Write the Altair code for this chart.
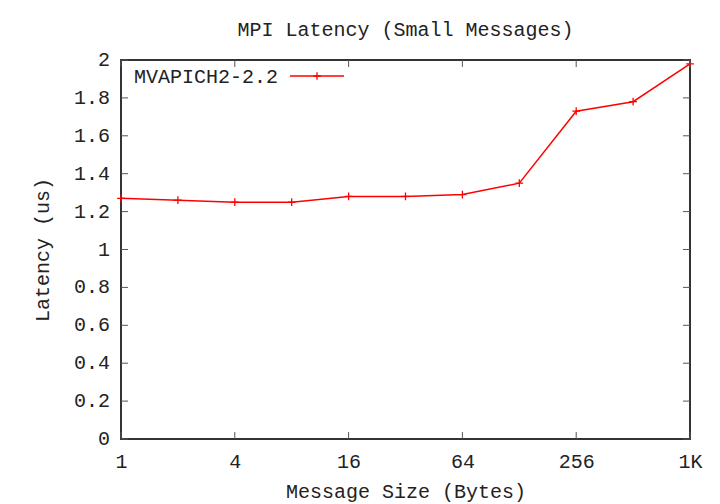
import altair as alt
import pandas as pd

sizes = [1, 2, 4, 8, 16, 32, 64, 128, 256, 512, 1024]
latency = [1.27, 1.26, 1.25, 1.25, 1.28, 1.28, 1.29, 1.35, 1.73, 1.78, 1.98]
series = ["MVAPICH2-2.2"]
title_text = ["MPI Latency (Small Messages)"]
x_ticks = [1, 4, 16, 64, 256, 1024]
x_tick_labels = ["1", "4", "16", "64", "256", "1K"]
y_ticks = [0, 0.2, 0.4, 0.6, 0.8, 1, 1.2, 1.4, 1.6, 1.8, 2]
y_tick_labels = ["0", "0.2", "0.4", "0.6", "0.8", "1", "1.2", "1.4", "1.6", "1.8", "2"]

df = pd.DataFrame({"size": sizes, "latency": latency, "series": series[0]})
xt = pd.DataFrame({"v": x_ticks})
yt = pd.DataFrame({"v": y_ticks, "lab": y_tick_labels})
leg = pd.DataFrame({"s": series})
ttl = pd.DataFrame({"t": title_text})

W, H = 569, 379
FONT = "Liberation Mono"
FS = 20
TXT = "#222222"
TICK = 7
PLUS = "M-1,0L1,0M0,-1L0,1"

label_expr = "".join(
    f"datum.value == {v} ? '{l}' : " for v, l in zip(x_ticks, x_tick_labels)
) + "datum.label"

xscale = alt.Scale(type="log", base=2, domain=[1, 1024], nice=False)
yscale = alt.Scale(domain=[0, 2], nice=False, zero=True)

xaxis = alt.Axis(
    values=x_ticks, labelExpr=label_expr, title="Message Size (Bytes)",
    tickSize=0, domain=False, grid=False, labelFont=FONT, labelFontSize=FS,
    labelColor=TXT, labelBaseline="alphabetic", labelPadding=28,
    labelFlush=False, labelOverlap=False,
    titleFont=FONT, titleFontSize=FS, titleFontWeight="normal", titleColor=TXT,
    titleBaseline="alphabetic", titleY=58,
)
yaxis = alt.Axis(
    values=y_ticks, labels=False, title="Latency (us)",
    tickSize=0, domain=False, grid=False,
    titleFont=FONT, titleFontSize=FS, titleFontWeight="normal", titleColor=TXT,
    titleX=-79, titleY=H / 2, titleAlign="center", titleBaseline="middle",
)

line = alt.Chart(df).mark_line(color="red", strokeWidth=1.5).encode(
    x=alt.X("size:Q", scale=xscale, axis=xaxis),
    y=alt.Y("latency:Q", scale=yscale, axis=yaxis),
)
pts = alt.Chart(df).mark_point(
    shape=PLUS, size=60, color="red", filled=False, strokeWidth=1.3, opacity=1
).encode(
    x=alt.X("size:Q", scale=xscale),
    y=alt.Y("latency:Q", scale=yscale),
)

tick_style = dict(color="#555555", strokeWidth=1)
xt_bottom = alt.Chart(xt).mark_rule(**tick_style).encode(
    x=alt.X("v:Q", scale=xscale), y=alt.value(H), y2=alt.value(H - TICK)
)
xt_top = alt.Chart(xt).mark_rule(**tick_style).encode(
    x=alt.X("v:Q", scale=xscale), y=alt.value(0), y2=alt.value(TICK)
)
yt_left = alt.Chart(yt).mark_rule(**tick_style).encode(
    y=alt.Y("v:Q", scale=yscale), x=alt.value(0), x2=alt.value(TICK)
)
yt_right = alt.Chart(yt).mark_rule(**tick_style).encode(
    y=alt.Y("v:Q", scale=yscale), x=alt.value(W - TICK), x2=alt.value(W)
)
yt_labels = alt.Chart(yt).mark_text(
    align="right", baseline="middle", font=FONT, fontSize=FS, color=TXT
).encode(
    y=alt.Y("v:Q", scale=yscale), x=alt.value(-11), text="lab:N"
)

leg_text = alt.Chart(leg).mark_text(
    align="left", baseline="middle", font=FONT, fontSize=FS, color=TXT
).encode(text="s:N", x=alt.value(13), y=alt.value(17))
leg_line = alt.Chart(leg).mark_rule(color="red", strokeWidth=1.5).encode(
    x=alt.value(169), x2=alt.value(223), y=alt.value(16)
)
leg_pt = alt.Chart(leg).mark_point(
    shape=PLUS, size=60, color="red", filled=False, strokeWidth=1.3, opacity=1
).encode(x=alt.value(196), y=alt.value(16))

title_mark = alt.Chart(ttl).mark_text(
    align="center", baseline="alphabetic", font=FONT, fontSize=FS, color=TXT
).encode(text="t:N", x=alt.value(W / 2), y=alt.value(-24))

chart = alt.layer(
    line, pts, xt_bottom, xt_top, yt_left, yt_right, yt_labels,
    leg_line, leg_pt, leg_text, title_mark,
).properties(
    width=W, height=H,
    autosize=alt.AutoSizeParams(type="none"),
    padding={"left": 113, "top": 52, "right": 22, "bottom": 65},
).configure_view(
    stroke="#333333", strokeWidth=2
).configure_axis(
    labelOverlap=False
)

chart.save("out.html", embed_options={"renderer": "svg", "actions": False})
